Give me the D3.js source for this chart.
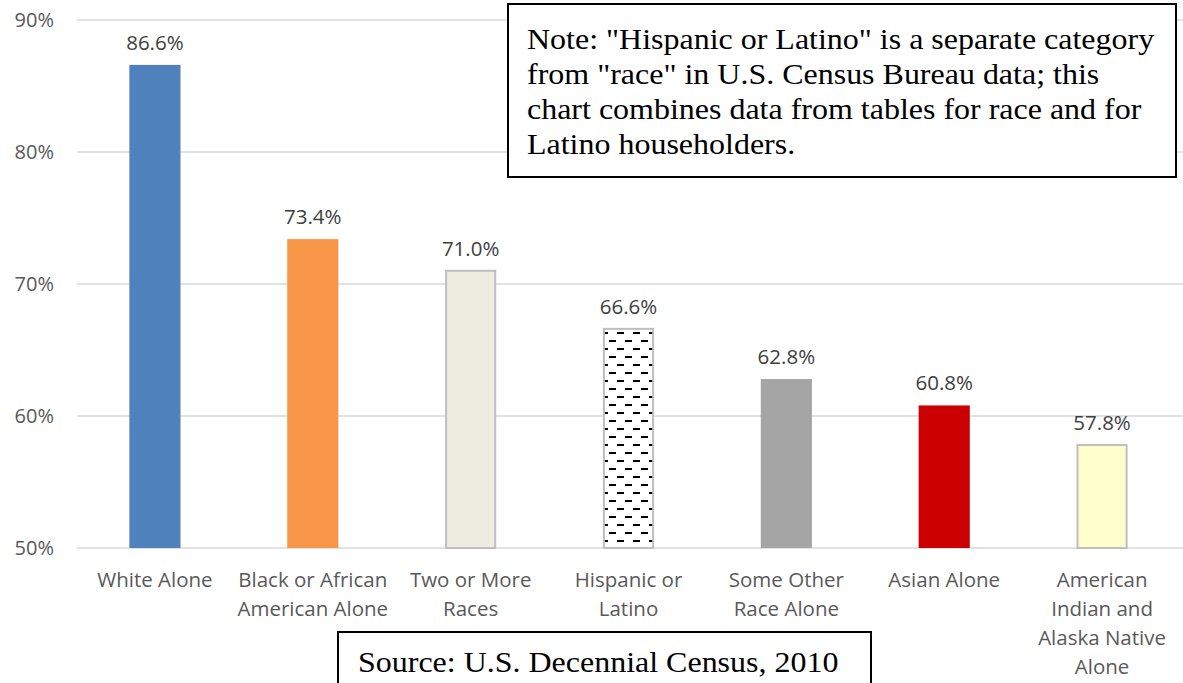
<!DOCTYPE html>
<html><head><meta charset="utf-8">
<script src="https://cdn.jsdelivr.net/npm/d3@7"></script>
<style>body{margin:0;background:#fff}svg{display:block}</style>
</head><body>
<svg id="c" width="1183" height="683"></svg>
<script>
const categories = [
  ["White Alone"],
  ["Black or African", "American Alone"],
  ["Two or More", "Races"],
  ["Hispanic or", "Latino"],
  ["Some Other", "Race Alone"],
  ["Asian Alone"],
  ["American", "Indian and", "Alaska Native", "Alone"]
];
const values = [86.6, 73.4, 71.0, 66.6, 62.8, 60.8, 57.8];
const yTicks = [50, 60, 70, 80, 90];
const fills = ["#4f81bd", "#f79646", "#eeece1", "url(#dash)", "#a5a5a5", "#cc0000", "#ffffcc"];
const strokes = [null, null, "#bfbfbf", "#bfbfbf", null, null, "#bfbfbf"];
const noteLines = [
  "Note: \"Hispanic or Latino\" is a separate category",
  "from \"race\" in U.S. Census Bureau data; this",
  "chart combines data from tables for race and for",
  "Latino householders."
];
const sourceText = "Source: U.S. Decennial Census, 2010";

const svg = d3.select("#c");
const defs = svg.append("defs");
const pat = defs.append("pattern").attr("id","dash").attr("patternUnits","userSpaceOnUse")
  .attr("width",16).attr("height",16).attr("x",0).attr("y",0);
pat.append("rect").attr("width",16).attr("height",16).attr("fill","#fff");
pat.append("rect").attr("x",1).attr("y",4).attr("width",7).attr("height",2).attr("fill","#000");
pat.append("rect").attr("x",9).attr("y",12).attr("width",7).attr("height",2).attr("fill","#000");

const x = d3.scaleBand().domain(d3.range(categories.length)).range([76, 1181]).paddingInner(0.676).paddingOuter(0.338);
const y = d3.scaleLinear().domain([50, 90]).range([548, 20]);
const font = "Open Sans, sans-serif";
const serif = "Liberation Serif, Times New Roman, serif";

// gridlines
svg.append("g").selectAll("line").data(yTicks).join("line")
  .attr("x1", 77).attr("x2", 1183).attr("y1", d => y(d)).attr("y2", d => y(d))
  .attr("stroke", "#d9d9d9").attr("stroke-width", 1.5);

// y tick labels
svg.append("g").selectAll("text").data(yTicks).join("text")
  .attr("x", 54).attr("y", d => y(d)).attr("dy", "0.36em").attr("text-anchor","end")
  .attr("font-family", font).attr("font-size", 20).attr("fill", "#595959")
  .text(d => d + "%");

// bars
svg.append("g").selectAll("rect").data(values).join("rect")
  .attr("x", (d,i) => x(i) + (strokes[i] ? 1 : 0)).attr("width", (d,i) => x.bandwidth() - (strokes[i] ? 2 : 0))
  .attr("y", d => y(d)).attr("height", d => y(50) - y(d))
  .attr("fill", (d,i) => fills[i])
  .attr("stroke", (d,i) => strokes[i] || "none").attr("stroke-width", 2);

// value labels
svg.append("g").selectAll("text").data(values).join("text")
  .attr("x", (d,i) => x(i) + x.bandwidth()/2).attr("y", d => y(d) - 15)
  .attr("text-anchor","middle").attr("font-family", font).attr("font-size", 20.5).attr("fill","#404040")
  .text(d => d.toFixed(1) + "%");

// category labels
const cat = svg.append("g").selectAll("text").data(categories).join("text")
  .attr("x", (d,i) => x(i) + x.bandwidth()/2).attr("y", 587)
  .attr("text-anchor","middle").attr("font-family", font).attr("font-size", 20.5).attr("fill","#595959");
cat.selectAll("tspan").data(d => d).join("tspan")
  .attr("x", function(){ return this.parentNode.getAttribute("x"); })
  .attr("dy", (d,j) => j === 0 ? 0 : 29).text(d => d);

// note box
svg.append("rect").attr("x", 508).attr("y", 4).attr("width", 668).attr("height", 173)
  .attr("fill","#fff").attr("stroke","#000").attr("stroke-width",2);
svg.append("g").attr("transform","translate(527,0) scale(1.066,1)")
  .selectAll("text").data(noteLines).join("text")
  .attr("x", 0).attr("y", (d,i) => 49 + i*35)
  .attr("font-family", serif).attr("font-size", 30).attr("fill","#000")
  .text(d => d);

// source box
svg.append("rect").attr("x", 338).attr("y", 632).attr("width", 533).attr("height", 60)
  .attr("fill","#fff").attr("stroke","#000").attr("stroke-width",2);
svg.append("g").attr("transform","translate(358,0) scale(1.066,1)")
  .append("text").attr("x", 0).attr("y", 672)
  .attr("font-family", serif).attr("font-size", 30).attr("fill","#000")
  .text(sourceText);
</script>
</body></html>
